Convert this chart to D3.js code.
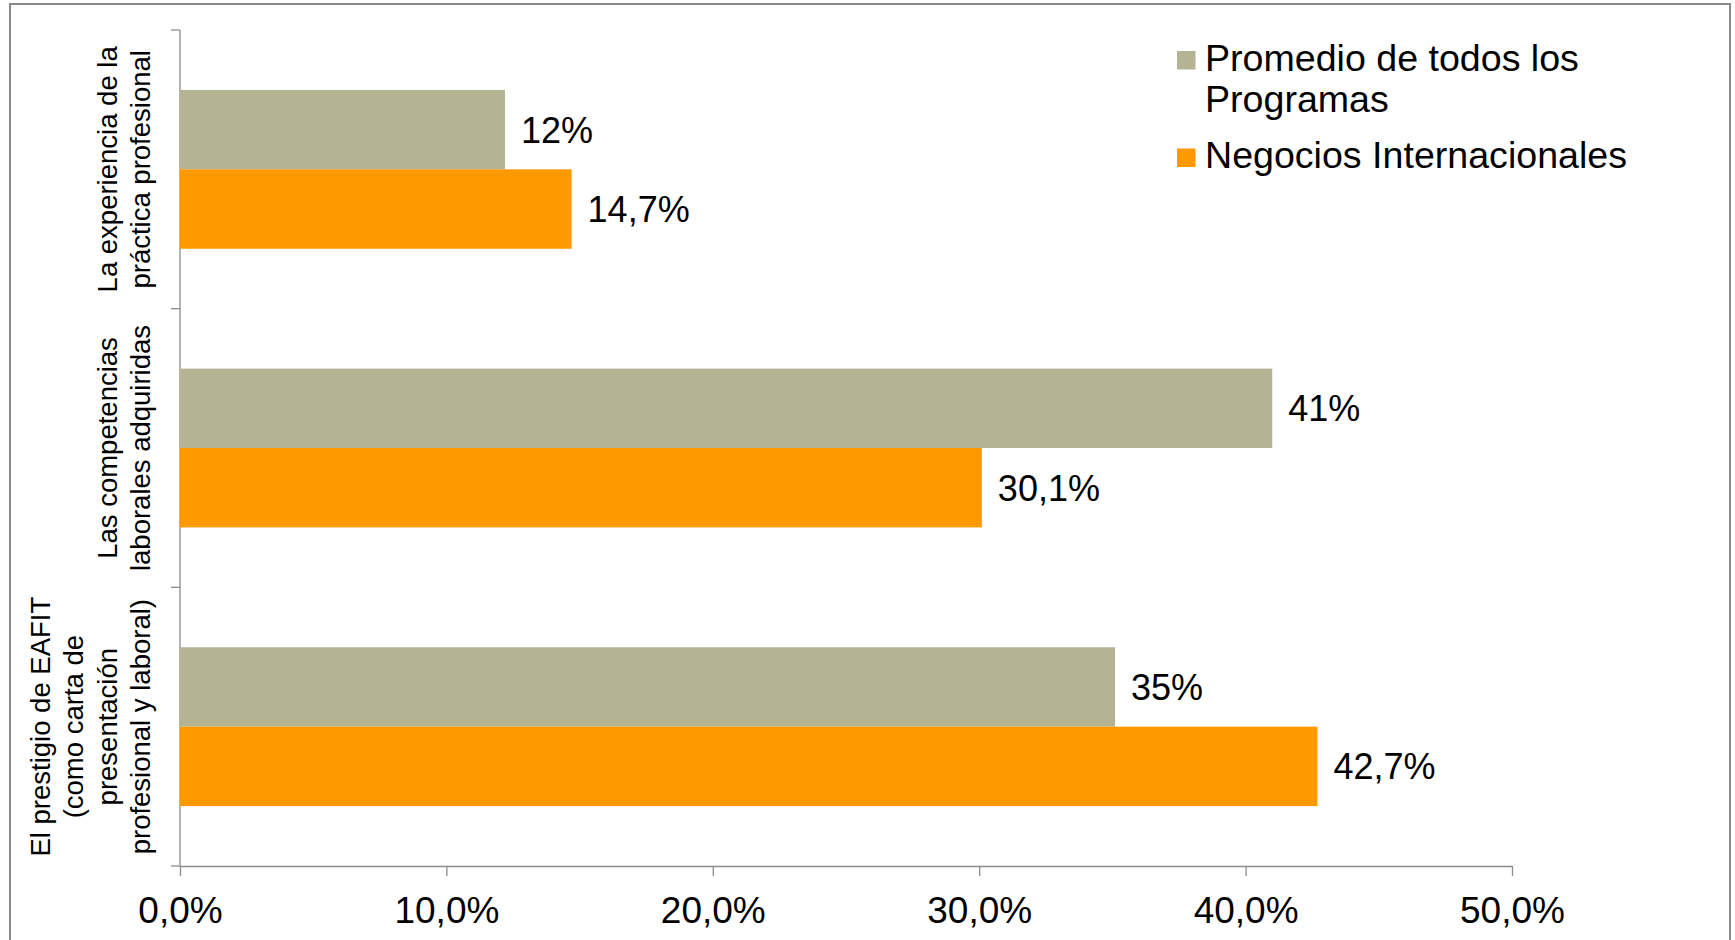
<!DOCTYPE html>
<html>
<head>
<meta charset="utf-8">
<script src="https://cdn.jsdelivr.net/npm/d3@7"></script>
<style>
  html, body { margin: 0; padding: 0; background: #fff; }
  svg { display: block; }
  text { font-family: "Liberation Sans", Arial, sans-serif; fill: #000; }
</style>
</head>
<body>
<svg id="chart" width="1735" height="940"></svg>
<script>
// ---- data ----
const categories = [
  "La experiencia de la práctica profesional",
  "Las competencias laborales adquiridas",
  "El prestigio de EAFIT (como carta de presentación profesional y laboral)"
];
const categoryLines = [
  ["La experiencia de la", "práctica profesional"],
  ["Las competencias", "laborales adquiridas"],
  ["El prestigio de EAFIT", "(como carta de", "presentación", "profesional y laboral)"]
];
const seriesNames = ["Promedio de todos los Programas", "Negocios Internacionales"];
const legendLines = [["Promedio de todos los", "Programas"], ["Negocios Internacionales"]];
const promedio = [12.2, 41.0, 35.1];
const negocios = [14.7, 30.1, 42.7];
const promedioLabels = ["12%", "41%", "35%"];
const negociosLabels = ["14,7%", "30,1%", "42,7%"];
const xTicks = [0, 10, 20, 30, 40, 50];
const colors = ["#B4B494", "#FF9900"];

// ---- setup ----
const svg = d3.select("#chart");
const axisColor = "#8c8c8c";

// outer frame
svg.append("rect")
  .attr("x", 10).attr("y", 4).attr("width", 1720).attr("height", 960)
  .attr("fill", "none").attr("stroke", "#8a8a8a").attr("stroke-width", 2);

const x = d3.scaleLinear().domain([0, 50]).range([180, 1512]);
const y = d3.scaleBand().domain(categories).range([30, 866])
  .paddingInner(0.43).paddingOuter(0.215);
const yInner = d3.scaleBand().domain(seriesNames).range([0, y.bandwidth()]);

const locale = d3.formatLocale({decimal: ",", thousands: ".", grouping: [3], currency: ["", ""]});
const fmt = locale.format(".1f");

// x axis
const xAxis = svg.append("g")
  .attr("transform", "translate(0,866)")
  .call(d3.axisBottom(x).tickValues(xTicks).tickSize(10).tickSizeOuter(0)
    .tickFormat(d => fmt(d) + "%"));
xAxis.select(".domain").attr("stroke", axisColor).attr("stroke-width", 1.3);
xAxis.selectAll(".tick line").attr("stroke", axisColor).attr("stroke-width", 1.3);
xAxis.selectAll(".tick text")
  .attr("y", 57).attr("dy", null)
  .style("font-family", '"Liberation Sans", Arial, sans-serif')
  .style("font-size", "37px").attr("fill", "#000");

// y axis (category axis, ticks between categories)
const yAxis = svg.append("g");
yAxis.append("line")
  .attr("x1", x(0)).attr("x2", x(0))
  .attr("y1", y.range()[0]).attr("y2", y.range()[1])
  .attr("stroke", axisColor).attr("stroke-width", 1.3);
const boundaries = d3.range(categories.length + 1).map(i => y.range()[0] + i * y.step());
yAxis.selectAll("line.tick").data(boundaries).enter().append("line")
  .attr("class", "tick")
  .attr("x1", x(0) - 9).attr("x2", x(0))
  .attr("y1", d => d).attr("y2", d => d)
  .attr("stroke", axisColor).attr("stroke-width", 1.3);

// category labels (rotated, multi-line)
const lineStep = 33.5;
categories.forEach((c, i) => {
  const lines = categoryLines[i];
  const cy = y(c) + y.bandwidth() / 2;
  const n = lines.length;
  lines.forEach((ln, j) => {
    const bx = 150 - (n - 1 - j) * lineStep;
    svg.append("text")
      .attr("transform", `translate(${bx},${cy}) rotate(-90)`)
      .attr("text-anchor", "middle")
      .style("font-size", "27.5px")
      .text(ln);
  });
});

// bars
const seriesData = [
  {name: seriesNames[0], values: promedio, labels: promedioLabels, color: colors[0]},
  {name: seriesNames[1], values: negocios, labels: negociosLabels, color: colors[1]}
];
seriesData.forEach(s => {
  const g = svg.append("g");
  g.selectAll("rect").data(categories).enter().append("rect")
    .attr("x", x(0))
    .attr("y", c => y(c) + yInner(s.name))
    .attr("width", (c, i) => x(s.values[i]) - x(0))
    .attr("height", yInner.bandwidth())
    .attr("fill", s.color);
  g.selectAll("text").data(categories).enter().append("text")
    .attr("x", (c, i) => x(s.values[i]) + 16)
    .attr("y", c => y(c) + yInner(s.name) + yInner.bandwidth() / 2)
    .attr("dy", "0.36em")
    .style("font-size", "36px")
    .text((c, i) => s.labels[i]);
});

// legend
const legendTop = [70.5, 168];
seriesNames.forEach((name, i) => {
  const g = svg.append("g");
  g.append("rect")
    .attr("x", 1177).attr("y", legendTop[i] - 19.5)
    .attr("width", 18.5).attr("height", 18.5)
    .attr("fill", colors[i]);
  legendLines[i].forEach((ln, j) => {
    g.append("text")
      .attr("x", 1205).attr("y", legendTop[i] + j * 41)
      .style("font-size", "37.6px")
      .text(ln);
  });
});
</script>
</body>
</html>
